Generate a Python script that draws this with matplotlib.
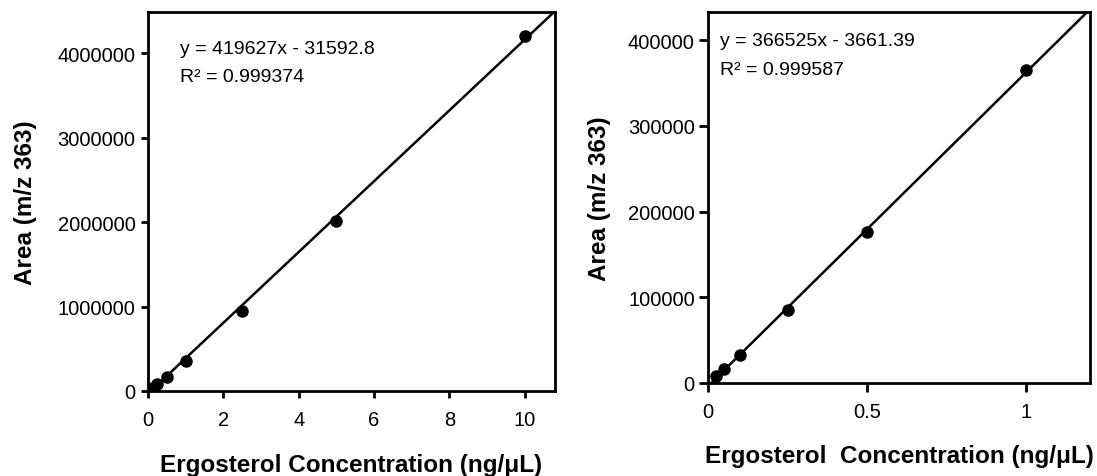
import numpy as np
from matplotlib import pyplot as plt

plt.rcParams['font.family'] = ['Liberation Sans', 'DejaVu Sans']

# left panel: full range standards
conc_all = [0.025, 0.05, 0.1, 0.25, 0.5, 1, 2.5, 5, 10]
area_all = [8000, 16000, 33000, 85000, 170000, 360000, 950000, 2010000, 4200000]
slope_all, icpt_all, r2_all = 419627, -31592.8, 0.999374

# right panel: low range standards
conc_low = [0.025, 0.05, 0.1, 0.25, 0.5, 1]
area_low = [8000, 16000, 33000, 85000, 176000, 365000]
slope_low, icpt_low, r2_low = 366525, -3661.39, 0.999587

fig = plt.figure(figsize=(10.97, 4.77), dpi=100)
ax1 = fig.add_axes([0.1349, 0.1782, 0.371, 0.7945])
ax2 = fig.add_axes([0.6454, 0.195, 0.3482, 0.7777])

def panel(ax, x, y, slope, icpt, r2, xmax, ymax, xticks, yticks, xticklabels,
          xlabel, eqpos, ticklen, xtpad, ytpad, xpad, ypad):
    xl = np.array([0, xmax])
    ax.plot(xl, slope * xl + icpt, color='black', lw=1.8, zorder=2)
    ax.plot(x, y, 'o', color='black', ms=8, zorder=3)
    ax.set_xlim(0, xmax)
    ax.set_ylim(0, ymax)
    ax.set_xticks(xticks)
    ax.set_xticklabels(xticklabels)
    ax.set_yticks(yticks)
    ax.set_yticklabels([str(v) for v in yticks])
    for s in ax.spines.values():
        s.set_linewidth(2)
    ax.tick_params(direction='out', length=ticklen, width=2, labelsize=14.5,
                   top=False, right=False)
    ax.tick_params(axis='x', pad=xtpad)
    ax.tick_params(axis='y', pad=ytpad)
    ax.set_xlabel(xlabel, fontsize=17.5, fontweight='bold', labelpad=xpad)
    ax.set_ylabel('Area (m/z 363)', fontsize=17.5, fontweight='bold', labelpad=ypad)
    sign = '-' if icpt < 0 else '+'
    ax.text(eqpos[0], eqpos[1], 'y = %dx %s %s' % (slope, sign, abs(icpt)),
            transform=ax.transAxes, fontsize=14, va='center')
    ax.text(eqpos[0], eqpos[2], 'R\u00b2 = %s' % r2,
            transform=ax.transAxes, fontsize=14, va='center')

panel(ax1, conc_all, area_all, slope_all, icpt_all, r2_all, 10.8, 4.49e6,
      [0, 2, 4, 6, 8, 10], [0, 1000000, 2000000, 3000000, 4000000],
      ['0', '2', '4', '6', '8', '10'],
      'Ergosterol Concentration (ng/\u03bcL)', (0.079, 0.905, 0.831),
      5, 9, 4, 17, 14.5)
panel(ax2, conc_low, area_low, slope_low, icpt_low, r2_low, 1.2, 4.33e5,
      [0, 0.5, 1], [0, 100000, 200000, 300000, 400000],
      ['0', '0.5', '1'],
      'Ergosterol  Concentration (ng/\u03bcL)', (0.031, 0.922, 0.845),
      6.5, 7, 3, 17, 12.5)

plt.savefig('out.png', dpi=100)
